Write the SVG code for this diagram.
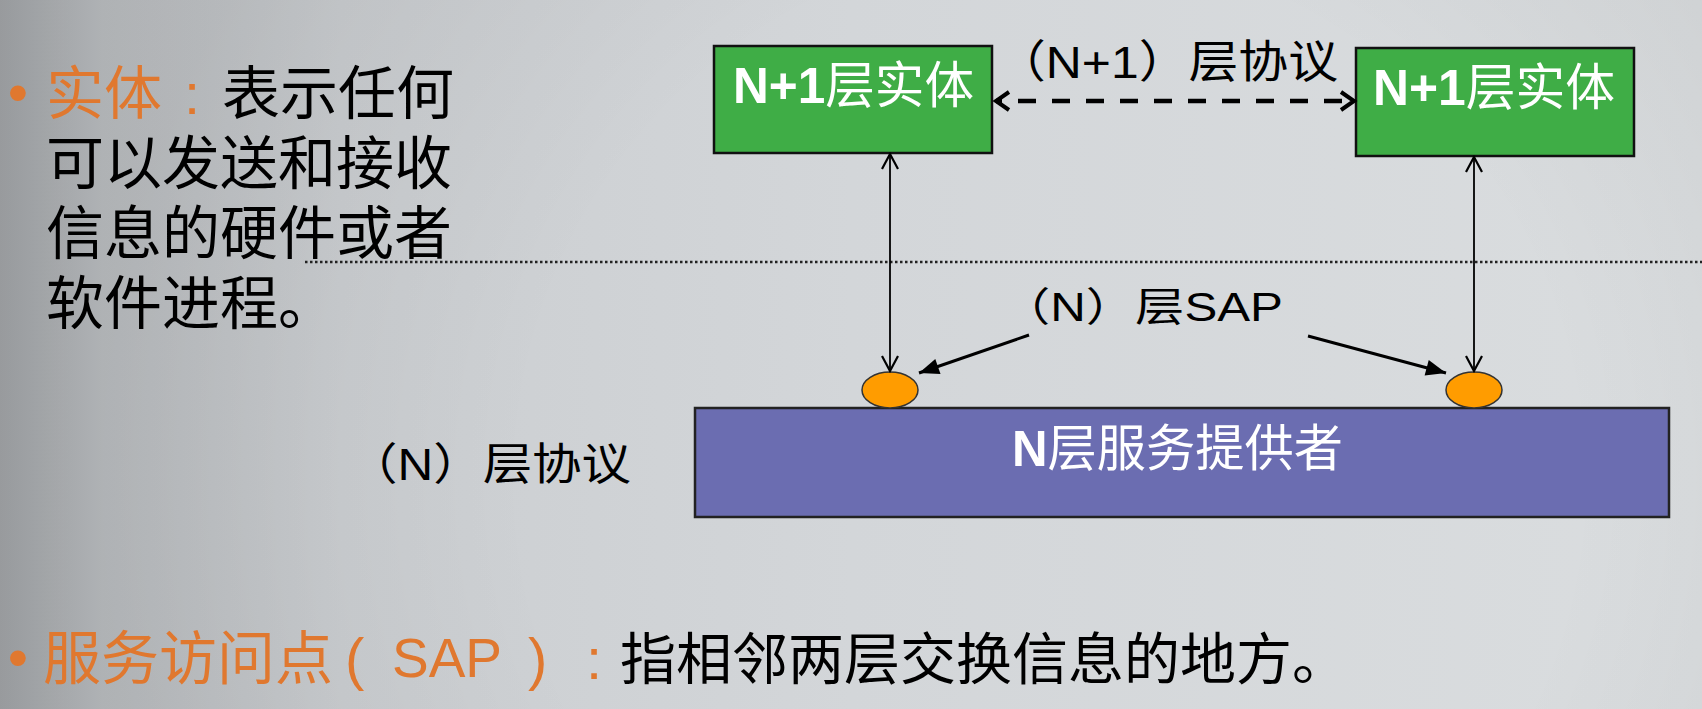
<svg xmlns="http://www.w3.org/2000/svg" width="1702" height="709" viewBox="0 0 1702 709">
<defs>
<linearGradient id="bg" x1="0" y1="0" x2="1" y2="0">
<stop offset="0" stop-color="#a3a6a9"/>
<stop offset="0.06" stop-color="#bcbfc2"/>
<stop offset="0.2" stop-color="#cbced1"/>
<stop offset="0.5" stop-color="#d3d6d9"/>
<stop offset="1" stop-color="#dadddf"/>
</linearGradient>
<radialGradient id="vig" cx="1050" cy="480" r="950" gradientUnits="userSpaceOnUse">
<stop offset="0.55" stop-color="#000" stop-opacity="0"/>
<stop offset="1" stop-color="#000" stop-opacity="0.07"/>
</radialGradient>
<marker id="openBig" markerUnits="userSpaceOnUse" viewBox="-16 -12 20 24" refX="0" refY="0" markerWidth="20" markerHeight="24" orient="auto-start-reverse">
<path d="M-13,-9 L0,0 L-13,9" fill="none" stroke="#000" stroke-width="4"/>
</marker>
<marker id="openThin" markerUnits="userSpaceOnUse" viewBox="-18 -10 20 20" refX="0" refY="0" markerWidth="20" markerHeight="20" orient="auto-start-reverse">
<path d="M-15,-8 L0,0 L-15,8" fill="none" stroke="#000" stroke-width="2.2"/>
</marker>
<marker id="solid" markerUnits="userSpaceOnUse" viewBox="-22 -10 24 20" refX="0" refY="0" markerWidth="24" markerHeight="20" orient="auto">
<path d="M-20,-8 L0,0 L-20,8 Z" fill="#000"/>
</marker>
</defs>
<style>
.cjk{font-family:"Noto Sans CJK SC","Noto Sans",sans-serif;}
.lab{font-family:"Liberation Sans","Noto Sans CJK SC",sans-serif;fill:#000;}
.orange{fill:#e0782f;}
.black{fill:#000;}
.boxtxt{font-family:"Liberation Sans","Noto Sans CJK SC",sans-serif;fill:#fff;font-size:50px;}
.green{fill:#3fad46;stroke:#111;stroke-width:2.5;}
.purple{fill:#6b6db1;stroke:#222;stroke-width:2.5;}
.sap{fill:#ff9c00;stroke:#333;stroke-width:1.5;}
</style>
<rect x="0" y="0" width="1702" height="709" fill="url(#bg)"/>
<rect x="0" y="0" width="1702" height="709" fill="url(#vig)"/>

<g id="desc-entity">
<text x="18" y="112" text-anchor="middle" class="lab orange" font-size="58">•</text>
<text x="46" y="114" class="cjk orange" font-size="58">实体</text>
<text x="184" y="114" class="lab orange" font-size="58">:</text>
<text x="222" y="114" class="cjk black" font-size="58">表示任何</text>
<text x="46" y="184" class="cjk black" font-size="58">可以发送和接收</text>
<text x="46" y="254" class="cjk black" font-size="58">信息的硬件或者</text>
<text x="46" y="324" class="cjk black" font-size="58">软件进程。</text>
</g>

<g id="desc-sap">
<text x="18" y="677" text-anchor="middle" class="lab orange" font-size="58">•</text>
<text x="43" y="679" class="cjk orange" font-size="58">服务访问点</text>
<text x="345" y="679" class="lab orange" font-size="58">(</text>
<text x="392" y="677" class="lab orange" font-size="55">SAP</text>
<text x="528" y="679" class="lab orange" font-size="58">)</text>
<text x="586" y="679" class="lab orange" font-size="58">:</text>
<text x="620" y="679" class="cjk black" font-size="56" textLength="728" lengthAdjust="spacingAndGlyphs">指相邻两层交换信息的地方。</text>
</g>

<line id="divider" x1="305" y1="262" x2="1702" y2="262" stroke="#222" stroke-width="2.5" stroke-dasharray="2.5 2.5"/>

<g id="entity-left">
<rect class="green" x="714" y="46" width="278" height="107"/>
<text class="boxtxt" x="733" y="103" textLength="241" lengthAdjust="spacingAndGlyphs"><tspan font-weight="bold">N+1</tspan>层实体</text>
</g>
<g id="entity-right">
<rect class="green" x="1356" y="48" width="278" height="108"/>
<text class="boxtxt" x="1373" y="105" textLength="242" lengthAdjust="spacingAndGlyphs"><tspan font-weight="bold">N+1</tspan>层实体</text>
</g>
<g id="provider">
<rect class="purple" x="695" y="408" width="974" height="109"/>
<text class="boxtxt" x="1012" y="466" textLength="331" lengthAdjust="spacingAndGlyphs"><tspan font-weight="bold">N</tspan>层服务提供者</text>
</g>
<g id="sap-left"><ellipse class="sap" cx="890" cy="390" rx="28" ry="18"/></g>
<g id="sap-right"><ellipse class="sap" cx="1474" cy="390" rx="28" ry="18"/></g>

<g id="labels">
<text class="lab" x="996" y="78" font-size="45" textLength="342" lengthAdjust="spacingAndGlyphs">（N+1）层协议</text>
<text class="lab" x="1001" y="321" font-size="40" textLength="282" lengthAdjust="spacingAndGlyphs">（N）层SAP</text>
<text class="lab" x="348" y="480" font-size="44" textLength="283" lengthAdjust="spacingAndGlyphs">（N）层协议</text>
</g>

<g id="connectors" fill="none" stroke="#000">
<line x1="996" y1="101" x2="1354" y2="101" stroke-width="4.5" stroke-dasharray="18 16" stroke-dashoffset="-22" marker-start="url(#openBig)" marker-end="url(#openBig)"/>
<line x1="890" y1="154" x2="890" y2="371" stroke-width="1.8" marker-start="url(#openThin)" marker-end="url(#openThin)"/>
<line x1="1474" y1="157" x2="1474" y2="371" stroke-width="1.8" marker-start="url(#openThin)" marker-end="url(#openThin)"/>
<line x1="1029" y1="335" x2="919" y2="373" stroke-width="3" marker-end="url(#solid)"/>
<line x1="1308" y1="336" x2="1446" y2="373" stroke-width="3" marker-end="url(#solid)"/>
</g>
</svg>
